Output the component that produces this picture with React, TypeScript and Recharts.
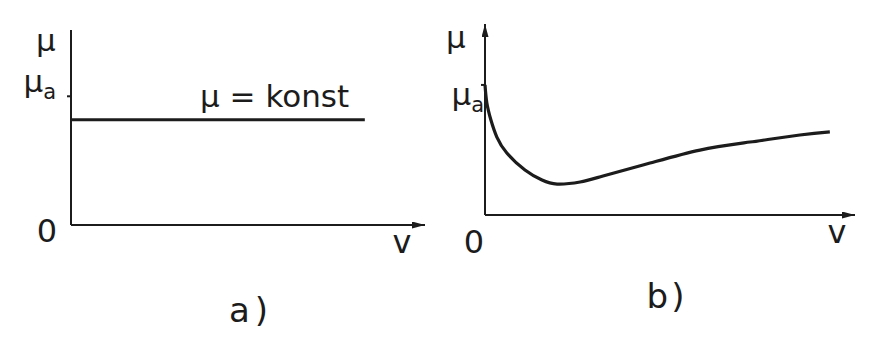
import React from "react";
import { LineChart, Line, XAxis, YAxis } from "recharts";

// a) friction coefficient independent of speed
const KONST_V = [0, 83];
const KONST_MU = [54, 54];
const MU_A_LEVEL_A = 66;

// b) friction coefficient falling then rising with speed
const CURVE_V = [0, 0.5, 1.6, 3.2, 5.9, 10.8, 15.4, 19.5, 25.7, 31.9, 44.6, 58.1, 71.6, 85.1, 93.2];
const CURVE_MU = [68.1, 58.6, 49.7, 40.8, 32.5, 23.6, 18.3, 16.2, 17.3, 20.4, 27.2, 34.0, 38.2, 41.9, 43.5];

const INK = "#1c1c1c";
const FONT = "'DejaVu Sans', sans-serif";

const konstData = KONST_V.map((v, i) => ({ v, mu: KONST_MU[i] }));
const curveData = CURVE_V.map((v, i) => ({ v, mu: CURVE_MU[i] }));

// recharts reserves these for the axes; margins below are reduced by the same amount
const Y_W = 60;
const X_H = 30;

interface MuTickProps {
  x?: number;
  y?: number;
  dx: number;
  dy: number;
}

const MuTick = ({ x = 0, y = 0, dx, dy }: MuTickProps) => (
  <text x={x + dx} y={y + dy} textAnchor="end" fontSize={31} fill={INK} fontFamily={FONT}>
    <tspan>μ</tspan>
    <tspan fontSize={21} dy={7}>a</tspan>
  </text>
);

const ArrowDefs = ({ id }: { id: string }) => (
  <defs>
    <marker
      id={id}
      markerUnits="userSpaceOnUse"
      markerWidth={14}
      markerHeight={8}
      refX={13}
      refY={3.5}
      orient="auto-start-reverse"
    >
      <path d="M0,0 L13,3.5 L0,7 z" fill={INK} />
    </marker>
  </defs>
);

const axisStyle = { stroke: INK, strokeWidth: 2 };

export default function App() {
  return (
    <div
      style={{
        position: "absolute",
        left: 0,
        top: 0,
        width: 877,
        height: 338,
        background: "#fff",
        fontFamily: FONT,
      }}
    >
      <div style={{ position: "absolute", left: 0, top: 0 }}>
        <LineChart
          width={440}
          height={338}
          data={konstData}
          margin={{ top: 30, right: 15, bottom: 113 - X_H, left: 71 - Y_W }}
        >
          <ArrowDefs id="arrowA" />
          <XAxis
            type="number"
            dataKey="v"
            domain={[0, 100]}
            height={X_H}
            tick={false}
            tickLine={false}
            axisLine={{ ...axisStyle, markerEnd: "url(#arrowA)" }}
          />
          <YAxis
            type="number"
            domain={[0, 100]}
            width={Y_W}
            ticks={[MU_A_LEVEL_A]}
            tickSize={4}
            tickMargin={2}
            tickLine={{ stroke: INK, strokeWidth: 2 }}
            axisLine={axisStyle}
            tick={(p: any) => <MuTick x={p.x} y={p.y} dx={-9} dy={-4} />}
          />
          <Line
            dataKey="mu"
            type="linear"
            stroke={INK}
            strokeWidth={3}
            dot={false}
            isAnimationActive={false}
          />
        </LineChart>
      </div>

      <div style={{ position: "absolute", left: 440, top: 0 }}>
        <LineChart
          width={437}
          height={338}
          data={curveData}
          margin={{ top: 24, right: 22, bottom: 123 - X_H, left: 45 - Y_W }}
        >
          <ArrowDefs id="arrowB" />
          <XAxis
            type="number"
            dataKey="v"
            domain={[0, 100]}
            height={X_H}
            tick={false}
            tickLine={false}
            axisLine={{ ...axisStyle, markerEnd: "url(#arrowB)" }}
          />
          <YAxis
            type="number"
            domain={[0, 100]}
            width={Y_W}
            ticks={[CURVE_MU[0]]}
            tickSize={4}
            tickMargin={2}
            tickLine={{ stroke: INK, strokeWidth: 2 }}
            axisLine={{ ...axisStyle, markerStart: "url(#arrowB)" }}
            tick={(p: any) => <MuTick x={p.x} y={p.y} dx={5} dy={20} />}
          />
          <Line
            dataKey="mu"
            type="natural"
            stroke={INK}
            strokeWidth={3.2}
            dot={false}
            isAnimationActive={false}
          />
        </LineChart>
      </div>

      {/* axis names, origin marks and panel captions */}
      <svg
        width={877}
        height={338}
        style={{ position: "absolute", left: 0, top: 0, pointerEvents: "none" }}
        fontFamily={FONT}
        fill={INK}
      >
        <text x={36} y={51} fontSize={31}>μ</text>
        <text x={200} y={107} fontSize={31}>μ = konst</text>
        <text x={47} y={242} fontSize={32} textAnchor="middle">0</text>
        <text x={402} y={253} fontSize={32} textAnchor="middle">v</text>
        <text x={251} y={322} fontSize={34} textAnchor="middle" letterSpacing={5}>a)</text>

        <text x={446} y={48} fontSize={31}>μ</text>
        <text x={474} y={253} fontSize={32} textAnchor="middle">0</text>
        <text x={837} y={243} fontSize={32} textAnchor="middle">v</text>
        <text x={667} y={308} fontSize={34} textAnchor="middle" letterSpacing={3}>b)</text>
      </svg>
    </div>
  );
}
